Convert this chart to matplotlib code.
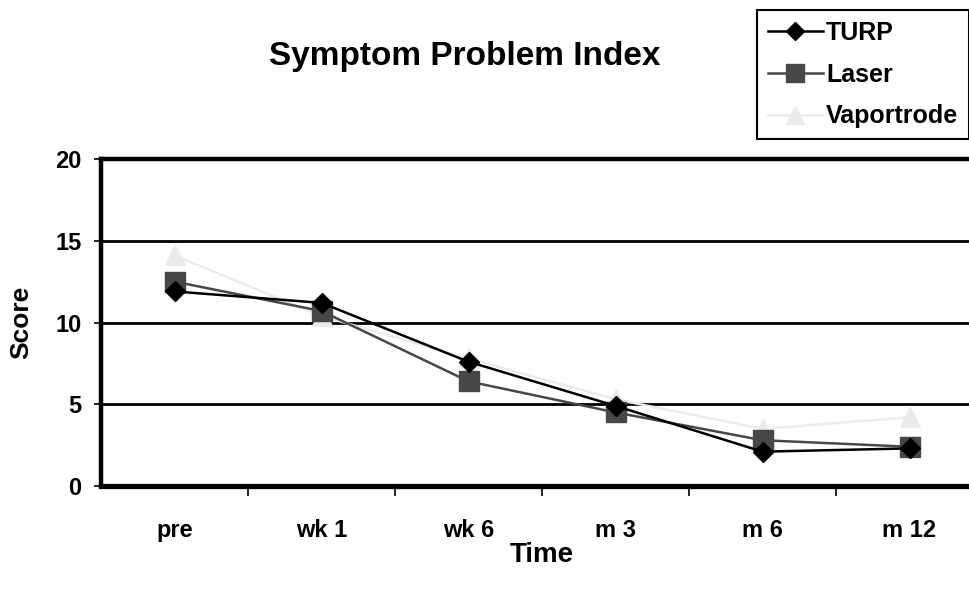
import matplotlib.pyplot as plt
import numpy as np

plt.rcParams['font.family'] = ['Liberation Sans', 'DejaVu Sans']
plt.rcParams['font.weight'] = 'bold'

times = ["pre", "wk 1", "wk 6", "m 3", "m 6", "m 12"]
turp = [11.9, 11.2, 7.6, 4.9, 2.1, 2.3]
laser = [12.5, 10.7, 6.4, 4.5, 2.8, 2.4]
vaportrode = [14.1, 10.4, 7.8, 5.3, 3.5, 4.2]

fig = plt.figure(figsize=(9.69, 5.91), dpi=100)
ax = fig.add_axes([101 / 969, 1 - 486 / 591, 882 / 969, 327 / 591])

x = np.arange(len(times))
ax.plot(x, turp, color="black", lw=1.8, marker="D", ms=10, label="TURP", zorder=4)
ax.plot(x, laser, color="#474747", lw=1.8, marker="s", ms=14, label="Laser", zorder=3)
ax.plot(x, vaportrode, color="#ebebeb", lw=1.8, marker="^", ms=15, label="Vaportrode", zorder=2)

ax.set_xlim(-0.5, len(times) - 0.5)
ax.set_ylim(0, 20)
ax.set_yticks([0, 5, 10, 15, 20])
ax.yaxis.grid(True, color="black", lw=2)
ax.set_axisbelow(True)

# category labels in the middle, tick marks between categories
ax.set_xticks(x)
ax.set_xticklabels(times, fontsize=17, fontweight="bold")
ax.tick_params(axis="x", length=0, pad=24)
ax.set_xticks(np.arange(0.5, len(times) - 1, 1), minor=True)
ax.tick_params(axis="x", which="minor", length=7, width=1.2, direction="out")
ax.tick_params(axis="y", labelsize=17, length=5, width=1.2, direction="out", pad=9)
for lbl in ax.get_yticklabels():
    lbl.set_fontweight("bold")

for side in ["left", "top"]:
    ax.spines[side].set_linewidth(3.2)
ax.spines["bottom"].set_linewidth(3.8)
ax.spines["right"].set_visible(False)

ax.set_xlabel("Time", fontsize=20, fontweight="bold", labelpad=0)
ax.set_ylabel("Score", fontsize=19, fontweight="bold", labelpad=16)

fig.text(465 / 969, 1 - 56 / 591, "Symptom Problem Index", ha="center", va="center",
         fontsize=24, fontweight="bold")

leg = fig.legend(loc="upper left", bbox_to_anchor=(757 / 969, 1 - 10 / 591),
                 fancybox=False, edgecolor="black", framealpha=1,
                 prop={"size": 18, "weight": "bold"}, handlelength=2.2,
                 handletextpad=0.15, borderpad=0.42, labelspacing=0.72,
                 borderaxespad=0, markerscale=0.9)
leg.get_frame().set_linewidth(1.5)

fig.savefig("out.png", dpi=100)
